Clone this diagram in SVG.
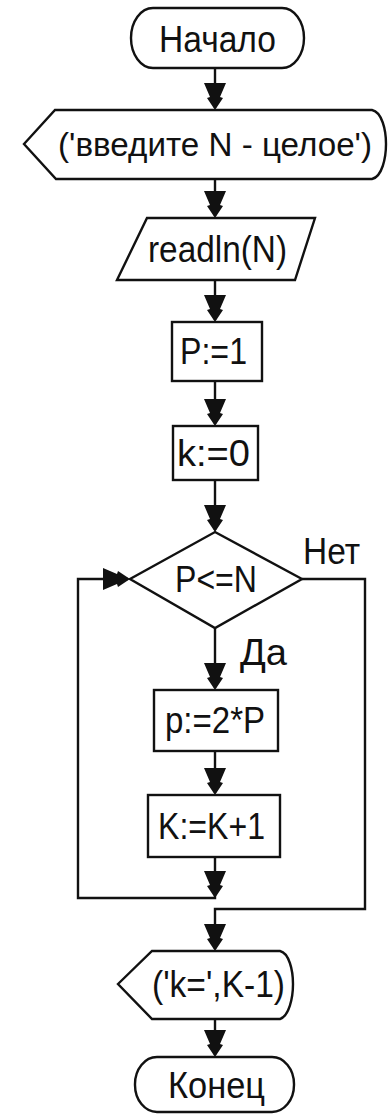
<svg xmlns="http://www.w3.org/2000/svg" xmlns:xlink="http://www.w3.org/1999/xlink" width="389" height="1114" viewBox="0 0 389 1114">
<style>
.sh{fill:#fff;stroke:#111;stroke-width:2.4}
.ln{fill:none;stroke:#111;stroke-width:2.4}
.t{font-family:"Liberation Sans",Arial,sans-serif;font-size:36px;fill:#111}
.ah{fill:#111}
</style>
<defs>
<path id="ah" d="M-11,-27 L11,-27 L5,-13 L8,-12 L0,0 L-8,-12 L-5,-13 Z"/>
</defs>
<rect width="389" height="1114" fill="#fff"/>
<g id="connectors">
<path class="ln" d="M215,68 V108"/>
<path class="ln" d="M215,179 V216"/>
<path class="ln" d="M215,280 V320"/>
<path class="ln" d="M215,381 V424"/>
<path class="ln" d="M215,480 V530"/>
<path class="ln" d="M215,628 V688"/>
<path class="ln" d="M215,751 V793"/>
<path class="ln" d="M215,857 V898 H78 V579 H128"/>
<path class="ln" d="M302,579 H365 V909 H215 V949"/>
<path class="ln" d="M215,1019 V1055"/>
<g class="ah">
<use xlink:href="#ah" transform="translate(215,110)"/>
<use xlink:href="#ah" transform="translate(215,218)"/>
<use xlink:href="#ah" transform="translate(215,322)"/>
<use xlink:href="#ah" transform="translate(215,426)"/>
<use xlink:href="#ah" transform="translate(215,532)"/>
<use xlink:href="#ah" transform="translate(215,690)"/>
<use xlink:href="#ah" transform="translate(215,795)"/>
<use xlink:href="#ah" transform="translate(215,898)"/>
<use xlink:href="#ah" transform="translate(130,579) rotate(-90)"/>
<use xlink:href="#ah" transform="translate(215,951)"/>
<use xlink:href="#ah" transform="translate(215,1057)"/>
</g>
<text class="t" x="303" y="564" textLength="57" lengthAdjust="spacingAndGlyphs">Нет</text>
<text class="t" x="240" y="665" textLength="47" lengthAdjust="spacingAndGlyphs">Да</text>
</g>
<g id="start">
<rect class="sh" x="131" y="8" width="173" height="60" rx="22" ry="30"/>
<text class="t" x="159" y="52" textLength="117" lengthAdjust="spacingAndGlyphs">Начало</text>
</g>
<g id="prompt">
<path class="sh" d="M24,144 L55,110 L372,110 C382,112 386,130 386,144 C386,158 382,177 372,179 L56,179 Z"/>
<text class="t" x="58" y="156" style="font-size:33px" textLength="314" lengthAdjust="spacingAndGlyphs">('введите N - целое')</text>
</g>
<g id="read">
<path class="sh" d="M147,218 L315,218 L295,280 L117,280 Z"/>
<text class="t" x="148" y="262" textLength="139" lengthAdjust="spacingAndGlyphs">readln(N)</text>
</g>
<g id="p1">
<rect class="sh" x="172" y="322" width="90" height="59"/>
<text class="t" x="180" y="364" textLength="67" lengthAdjust="spacingAndGlyphs">P:=1</text>
</g>
<g id="k0">
<rect class="sh" x="173" y="426" width="85" height="54"/>
<text class="t" x="177" y="466" textLength="73" lengthAdjust="spacingAndGlyphs">k:=0</text>
</g>
<g id="cond">
<path class="sh" d="M215,532 L302,579 L215,628 L130,579 Z"/>
<text class="t" x="175" y="592" textLength="82" lengthAdjust="spacingAndGlyphs">P&lt;=N</text>
</g>
<g id="p2">
<rect class="sh" x="154" y="690" width="124" height="61"/>
<text class="t" x="165" y="733" textLength="100" lengthAdjust="spacingAndGlyphs">p:=2*P</text>
</g>
<g id="kinc">
<rect class="sh" x="148" y="795" width="132" height="62"/>
<text class="t" x="158" y="839" textLength="107" lengthAdjust="spacingAndGlyphs">K:=K+1</text>
</g>
<g id="out">
<path class="sh" d="M118,984 L152,951 L280,951 C289,953 293,970 293,984 C293,998 289,1016 280,1019 L152,1019 Z"/>
<text class="t" x="152" y="997" textLength="133" lengthAdjust="spacingAndGlyphs">('k=',K-1)</text>
</g>
<g id="end">
<rect class="sh" x="135" y="1057" width="159" height="55" rx="22" ry="27"/>
<text class="t" x="168" y="1098" textLength="97" lengthAdjust="spacingAndGlyphs">Конец</text>
</g>
</svg>
